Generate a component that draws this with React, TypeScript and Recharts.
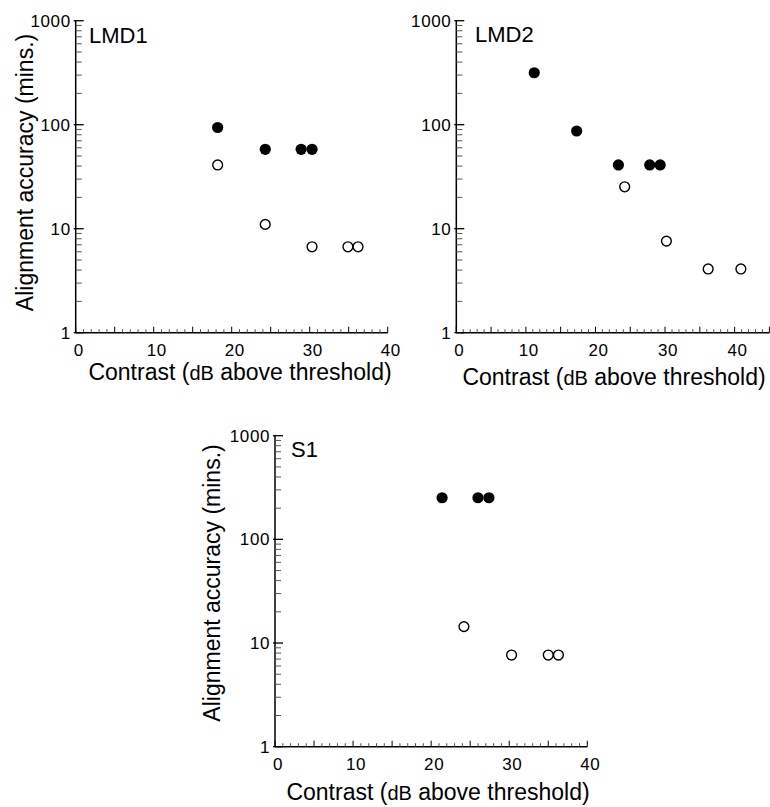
import React from "react";
import { ScatterChart, Scatter, XAxis, YAxis } from "recharts";

// ---------- data ----------
const lmd1FilledX = [18.2, 24.3, 28.9, 30.3];
const lmd1FilledY = [94, 58, 58, 58];
const lmd1OpenX = [18.2, 24.3, 30.3, 34.9, 36.2];
const lmd1OpenY = [41, 11, 6.7, 6.7, 6.7];

const lmd2FilledX = [11.2, 17.3, 23.3, 27.8, 29.3];
const lmd2FilledY = [316, 87, 41, 41, 41];
const lmd2OpenX = [24.2, 30.2, 36.2, 40.9];
const lmd2OpenY = [25.3, 7.6, 4.1, 4.1];

const s1FilledX = [21.4, 26.0, 27.4];
const s1FilledY = [252, 252, 252];
const s1OpenX = [24.2, 30.3, 35.0, 36.3];
const s1OpenY = [14.4, 7.66, 7.66, 7.66];

const yDecades = [1, 10, 100];
const yMultipliers = [1, 2, 3, 4, 5, 6, 7, 8, 9];
const yTop = 1000;
const yTicks = [...yDecades.flatMap((d) => yMultipliers.map((m) => d * m)), yTop];

const xTicks40 = Array.from({ length: 41 }, (_, i) => i);
const xTicks45 = Array.from({ length: 46 }, (_, i) => i);

const yTitle = "Alignment accuracy (mins.)";

const FONT = "'Liberation Sans', Arial, Helvetica, sans-serif";
const AXIS_W = 1;

const toPoints = (xs: number[], ys: number[]) => xs.map((x, i) => ({ x, y: ys[i] }));

const FilledDot = (p: any) =>
  p.cx == null ? null : <circle cx={p.cx} cy={p.cy} r={5.6} fill="#000" />;
const OpenDot = (p: any) =>
  p.cx == null ? null : (
    <circle cx={p.cx} cy={p.cy} r={4.9} fill="#fff" stroke="#000" strokeWidth={1.4} />
  );

const YTick = (props: any) => {
  const { x, y, payload } = props;
  const v = payload.value;
  const lg = Math.log10(v);
  const decade = Math.abs(lg - Math.round(lg)) < 1e-6;
  return (
    <g>
      <line
        x1={decade ? x - 2 : x}
        x2={x + (decade ? 8 : 6)}
        y1={y}
        y2={y}
        stroke={decade ? "#000" : "#555"}
        strokeWidth={decade ? 1.3 : 1}
      />
      {decade && (
        <text
          x={x - 5}
          y={y}
          dy="0.36em"
          textAnchor="end"
          fontSize={17}
          letterSpacing={0.6}
          fontFamily={FONT}
          fill="#000"
        >
          {v}
        </text>
      )}
    </g>
  );
};

const XTick = (props: any) => {
  const { x, y, payload } = props;
  const v = payload.value;
  const major = v % 5 === 0;
  const labeled = v % 10 === 0;
  return (
    <g>
      <line
        x1={x}
        x2={x}
        y1={y}
        y2={y - (major ? 6 : 3.5)}
        stroke={major ? "#000" : "#555"}
        strokeWidth={1}
      />
      {labeled && (
        <text
          x={x + 3}
          y={y + 23}
          textAnchor="middle"
          fontSize={17}
          letterSpacing={0.6}
          fontFamily={FONT}
          fill="#000"
        >
          {v}
        </text>
      )}
    </g>
  );
};

type PanelProps = {
  box: { left: number; top: number; width: number; height: number };
  plot: { left: number; top: number; right: number; bottom: number };
  xMax: number;
  xTicks: number[];
  filled: { x: number; y: number }[];
  open: { x: number; y: number }[];
  name: string;
  namePos: { x: number; y: number };
  xTitlePos: { x: number; y: number };
  yTitlePos?: { x: number; y: number };
};

const Panel = (p: PanelProps) => {
  const { box, plot } = p;
  const margin = {
    left: plot.left - box.left - AXIS_W,
    top: plot.top - box.top,
    right: box.left + box.width - plot.right,
    bottom: box.top + box.height - plot.bottom - AXIS_W,
  };
  const ox = box.left;
  const oy = box.top;
  const renderTexts = () => (
    <g fontFamily={FONT} fill="#000">
      <text x={p.namePos.x - ox} y={p.namePos.y - oy} fontSize={22}>
        {p.name}
      </text>
      <text x={p.xTitlePos.x - ox} y={p.xTitlePos.y - oy} fontSize={23} textAnchor="middle">
        {"Contrast ("}
        <tspan fontSize={20}>dB</tspan>
        {" above threshold)"}
      </text>
      {p.yTitlePos && (
        <text
          x={p.yTitlePos.x - ox}
          y={p.yTitlePos.y - oy}
          fontSize={23}
          textAnchor="middle"
          dominantBaseline="central"
          transform={`rotate(-90 ${p.yTitlePos.x - ox} ${p.yTitlePos.y - oy})`}
        >
          {yTitle}
        </text>
      )}
    </g>
  );
  return (
    <div style={{ position: "absolute", left: box.left, top: box.top }}>
      <ScatterChart width={box.width} height={box.height} margin={margin} style={{ overflow: "visible" }}>
        <XAxis
          type="number"
          dataKey="x"
          domain={[0, p.xMax]}
          ticks={p.xTicks}
          interval={0}
          height={AXIS_W}
          tickSize={0}
          tickMargin={0}
          tick={XTick}
          axisLine={{ stroke: "#000", strokeWidth: 1.5 }}
          tickLine={false}
          allowDataOverflow
          label={renderTexts}
        />
        <YAxis
          type="number"
          dataKey="y"
          scale="log"
          domain={[1, 1000]}
          ticks={yTicks}
          interval={0}
          width={AXIS_W}
          tickSize={0}
          tickMargin={0}
          tick={YTick}
          axisLine={{ stroke: "#000", strokeWidth: 1.5 }}
          tickLine={false}
          allowDataOverflow
        />
        <Scatter data={p.filled} shape={FilledDot} isAnimationActive={false} />
        <Scatter data={p.open} shape={OpenDot} isAnimationActive={false} />
      </ScatterChart>
    </div>
  );
};

export default function App() {
  return (
    <div
      style={{
        position: "absolute",
        left: 0,
        top: 0,
        width: 770,
        height: 807,
        background: "#fff",
        fontFamily: FONT,
      }}
    >
      <Panel
        box={{ left: 0, top: 0, width: 410, height: 400 }}
        plot={{ left: 75.7, top: 20.7, right: 387.7, bottom: 332.7 }}
        xMax={40}
        xTicks={xTicks40}
        filled={toPoints(lmd1FilledX, lmd1FilledY)}
        open={toPoints(lmd1OpenX, lmd1OpenY)}
        name="LMD1"
        namePos={{ x: 89, y: 42.7 }}
        xTitlePos={{ x: 240, y: 380 }}
        yTitlePos={{ x: 25, y: 172.5 }}
      />
      <Panel
        box={{ left: 385, top: 0, width: 385, height: 400 }}
        plot={{ left: 456.3, top: 20.7, right: 769.4, bottom: 332.7 }}
        xMax={45}
        xTicks={xTicks45}
        filled={toPoints(lmd2FilledX, lmd2FilledY)}
        open={toPoints(lmd2OpenX, lmd2OpenY)}
        name="LMD2"
        namePos={{ x: 475, y: 41.7 }}
        xTitlePos={{ x: 614, y: 385 }}
      />
      <Panel
        box={{ left: 180, top: 410, width: 430, height: 397 }}
        plot={{ left: 275, top: 435.7, right: 587.3, bottom: 746.7 }}
        xMax={40}
        xTicks={xTicks40}
        filled={toPoints(s1FilledX, s1FilledY)}
        open={toPoints(s1OpenX, s1OpenY)}
        name="S1"
        namePos={{ x: 291, y: 456.7 }}
        xTitlePos={{ x: 438, y: 800 }}
        yTitlePos={{ x: 212, y: 583 }}
      />
    </div>
  );
}
